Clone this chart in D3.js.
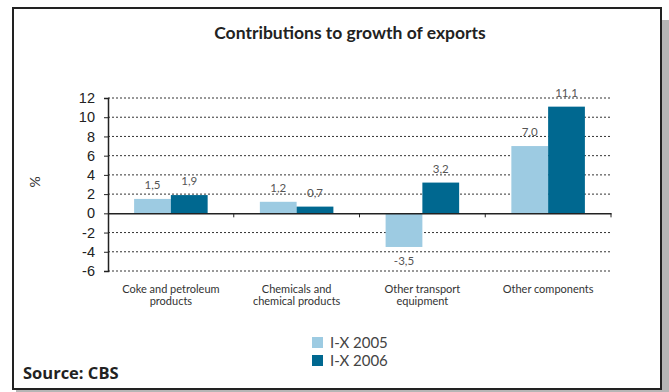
<!DOCTYPE html>
<html>
<head>
<meta charset="utf-8">
<script src="https://cdn.jsdelivr.net/npm/d3@7"></script>
<style>
  body { margin: 0; background: #fff; }
  svg { display: block; font-family: Lato, "DejaVu Sans", sans-serif; }
</style>
</head>
<body>
<div id="chart"></div>
<script>
var categories = [["Coke and petroleum", "products"], ["Chemicals and", "chemical products"], ["Other transport", "equipment"], ["Other components"]];
var seriesNames = ["I-X 2005", "I-X 2006"];
var values2005 = [1.5, 1.2, -3.5, 7.0];
var values2006 = [1.9, 0.7, 3.2, 11.1];
var yTicks = [-6, -4, -2, 0, 2, 4, 6, 8, 10, 12];

var width = 669,
  height = 392,
  colors = ["#9dcbe2", "#006890"],
  margin = {left: 108, right: 58, top: 98, bottom: 121};

var svg = d3.select("#chart").append("svg")
  .attr("width", width)
  .attr("height", height);

// frame with shadow
svg.append("rect").attr("x", 16).attr("y", 20).attr("width", 653).attr("height", 372).attr("fill", "#b5b5b5");
svg.append("rect").attr("x", 13).attr("y", 8).attr("width", 648).attr("height", 381)
  .attr("fill", "#fff").attr("stroke", "#222").attr("stroke-width", 2);

svg.append("text")
  .attr("x", 350).attr("y", 39)
  .attr("text-anchor", "middle")
  .attr("font-weight", "bold")
  .attr("font-size", 17.5)
  .attr("fill", "#222")
  .text("Contributions to growth of exports");

var x = d3.scaleBand()
  .domain(d3.range(categories.length))
  .range([margin.left, width - margin.right]);

var xInner = d3.scaleBand()
  .domain([0, 1])
  .range([0, x.bandwidth()])
  .paddingInner(0)
  .paddingOuter(0.71);

var y = d3.scaleLinear()
  .domain([-6, 12])
  .range([height - margin.bottom, margin.top]);

var fmt = function(d) { return d3.format(".1f")(d).replace(".", ",").replace("\u2212", "-"); };

// gridlines
svg.append("g").selectAll("line")
  .data(yTicks.filter(function(d) { return d !== 0; }))
  .enter().append("line")
  .attr("x1", margin.left).attr("x2", width - margin.right)
  .attr("y1", function(d) { return y(d); }).attr("y2", function(d) { return y(d); })
  .attr("stroke", "#333").attr("stroke-width", 1).attr("stroke-dasharray", "2,2");

// bars
var series = [values2005, values2006];
series.forEach(function(vals, s) {
  var g = svg.append("g");
  g.selectAll("rect")
    .data(vals)
    .enter().append("rect")
    .attr("x", function(d, i) { return x(i) + xInner(s); })
    .attr("width", xInner.bandwidth())
    .attr("y", function(d) { return y(Math.max(0, d)); })
    .attr("height", function(d) { return Math.abs(y(d) - y(0)); })
    .attr("fill", colors[s]);

  g.selectAll("text")
    .data(vals)
    .enter().append("text")
    .attr("x", function(d, i) { return x(i) + xInner(s) + xInner.bandwidth() / 2; })
    .attr("y", function(d) { return d >= 0 ? y(d) - 10 : y(d) + 18; })
    .attr("text-anchor", "middle")
    .attr("font-size", 11.5)
    .attr("fill", "#555")
    .text(fmt);
});

// y axis
var yAxis = svg.append("g")
  .attr("transform", "translate(" + margin.left + ",0)")
  .call(d3.axisLeft(y).tickValues(yTicks).tickSize(4).tickFormat(function(d) { return String(d); }));
yAxis.select(".domain").attr("stroke", "#222").attr("stroke-width", 1.5);
yAxis.selectAll(".tick line").attr("stroke", "#222").attr("x2", 0).attr("x1", -4);
yAxis.selectAll(".tick text").attr("font-size", 14.5).attr("fill", "#222").attr("x", -13).attr("font-family", "inherit");

// x axis at zero
var xAxis = svg.append("g")
  .attr("transform", "translate(0," + y(0) + ")")
  .call(d3.axisBottom(x).tickValues([]).tickSizeOuter(0));
xAxis.select(".domain").attr("stroke", "#222").attr("stroke-width", 1.5);
xAxis.selectAll(".cat-tick")
  .data(d3.range(categories.length))
  .enter().append("line")
  .attr("x1", function(d) { return x(d) + x.bandwidth(); })
  .attr("x2", function(d) { return x(d) + x.bandwidth(); })
  .attr("y1", 0).attr("y2", 4)
  .attr("stroke", "#222");

// category labels
var labels = svg.append("g").selectAll("text")
  .data(categories)
  .enter().append("text")
  .attr("x", function(d, i) { return x(i) + x.bandwidth() / 2; })
  .attr("y", 293)
  .attr("text-anchor", "middle")
  .attr("font-size", 11)
  .attr("fill", "#333");
labels.selectAll("tspan")
  .data(function(d) { return d; })
  .enter().append("tspan")
  .attr("x", function() { return d3.select(this.parentNode).attr("x"); })
  .attr("dy", function(d, i) { return i === 0 ? 0 : 12; })
  .text(function(d) { return d; });

// y label
svg.append("text")
  .attr("transform", "translate(40,182) rotate(-90)")
  .attr("text-anchor", "middle")
  .attr("font-size", 14)
  .attr("fill", "#333")
  .text("%");

// legend
var legend = svg.append("g").selectAll("g")
  .data(seriesNames)
  .enter().append("g")
  .attr("transform", function(d, i) { return "translate(312," + (337 + i * 18) + ")"; });
legend.append("rect")
  .attr("width", 11).attr("height", 11)
  .attr("fill", function(d, i) { return colors[i]; });
legend.append("text")
  .attr("x", 18).attr("y", 11)
  .attr("font-size", 15)
  .attr("fill", "#444")
  .text(function(d) { return d; });

svg.append("text")
  .attr("x", 23).attr("y", 379)
  .attr("font-weight", "bold")
  .attr("font-size", 16.5)
  .attr("font-family", "'Open Sans', sans-serif")
  .attr("fill", "#222")
  .text("Source: CBS");
</script>
</body>
</html>
